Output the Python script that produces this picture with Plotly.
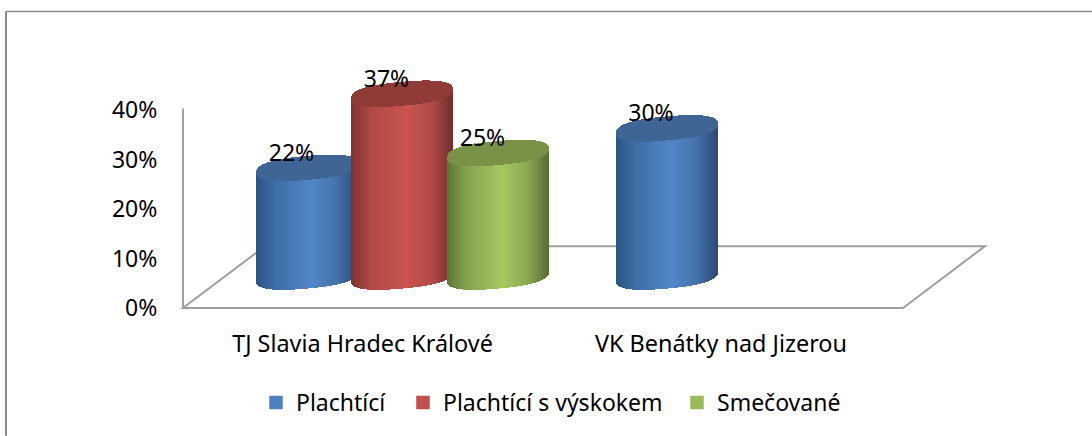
import numpy as np
import plotly.graph_objects as go

# ---- data ----
categories = ["TJ Slavia Hradec Králové", "VK Benátky nad Jizerou"]
series_names = ["Plachtící", "Plachtící s výskokem", "Smečované"]
plachtici = [22, 30]
plachtici_vyskok = [37, None]
smecovane = [25, None]
y_ticks = [0, 10, 20, 30, 40]

# ---- styling / layout ----
W, H = 1092, 436
L, R, B = 183, 985, 308
PX_X = 358.5                 # px per category
PX_Y = 198 / 40.0            # px per percent
Y_MAX = 50.0                 # head-room above the 40% axis for the cylinder tops
T = B - Y_MAX * PX_Y
TICK0_PX = 362.5
FONT = "Noto Sans"
FS = 23
FS_TICK = 23.4
FS_NUM = 23
x_range = [(L - TICK0_PX) / PX_X, (R - TICK0_PX) / PX_X]

slot_px = {  # centre pixel offset of each series from the category tick
    0: [-55.0, 40.0, 136.0],
    1: [-54.0, 0, 0],
}
RX_PX, RY_PX, TILT_PX, BASE_PX, ROUND = 50.5, 12.0, 4.5, 31.5, 2.5
LEGEND_ICON_PX = [276, 423, 697]

palettes = {
    "Plachtící": (
        [(-1, "#2d5583"), (-0.6, "#3f6ea8"), (0.1, "#5387ca"), (0.6, "#4672aa"), (1, "#2c4c76")],
        "#3f6594", "#4f81bd"),
    "Plachtící s výskokem": (
        [(-1, "#7d3331"), (-0.6, "#b04a47"), (0.1, "#cb5450"), (0.6, "#b04a47"), (1, "#752f2d")],
        "#8f3c39", "#c0504d"),
    "Smečované": (
        [(-1, "#5c7535"), (-0.6, "#85a44e"), (0.1, "#a6c95f"), (0.6, "#8aa852"), (1, "#596f33")],
        "#7a9247", "#9bbb59"),
}


def hex2rgb(h):
    return np.array([int(h[i:i + 2], 16) for i in (1, 3, 5)], float)


def shade(stops, u):
    us = [s[0] for s in stops]
    cs = np.array([hex2rgb(s[1]) for s in stops])
    return "rgb(%d,%d,%d)" % tuple(np.interp(u, us, cs[:, k]) for k in range(3))


def paper_x(px):
    return (px - L) / (R - L)


def paper_y(py):
    return (B - py) / (B - T)


def cylinder(cat, idx, value, name):
    stops, cap, _ = palettes[name]
    cx_px = TICK0_PX + cat * PX_X + slot_px[cat][idx]
    n = int(RX_PX * 2)
    us = (np.arange(n) + 0.5) / n * 2 - 1
    xs = (cx_px + us * RX_PX - TICK0_PX) / PX_X
    arc = (1 - np.abs(us) ** ROUND) ** (1 / ROUND) * RY_PX
    low = (BASE_PX + TILT_PX * us - arc) / PX_Y
    front = low + value
    body = go.Bar(x=xs, y=np.full(n, float(value)), base=low, width=1.6 / PX_X,
                  marker=dict(color=[shade(stops, u) for u in us], line=dict(width=0)),
                  showlegend=False, hoverinfo="skip")
    capb = go.Bar(x=xs, y=2 * arc / PX_Y, base=front, width=1.6 / PX_X,
                  marker=dict(color=cap, line=dict(width=0)),
                  showlegend=False, hoverinfo="skip")
    return [body, capb], cx_px


fig = go.Figure()
lab_x, lab_y, lab_t = [], [], []
all_vals = [plachtici, plachtici_vyskok, smecovane]
for cat in range(len(categories)):
    for idx, (vals, name) in enumerate(zip(all_vals, series_names)):
        v = vals[cat]
        if v is None:
            continue
        traces, cx_px = cylinder(cat, idx, v, name)
        fig.add_traces(traces)
        lab_x.append((cx_px - 16 - TICK0_PX) / PX_X)
        lab_y.append(v + (BASE_PX + 13) / PX_Y)
        lab_t.append(f"{v}%")

fig.add_trace(go.Scatter(x=lab_x, y=lab_y, text=lab_t, mode="text", textposition="middle center",
                         textfont=dict(family=FONT, size=FS_NUM, color="#000"),
                         showlegend=False, hoverinfo="skip"))

for i, name in enumerate(series_names):
    c = palettes[name][2]
    fig.add_trace(go.Bar(x=[None], y=[None], name=name,
                         marker=dict(color=c, line=dict(color=c, width=1.5)),
                         legend="legend" if i == 0 else f"legend{i + 1}"))

GREY = "#a0a0a0"
floor = (f"M {paper_x(L)} {paper_y(B)} L {paper_x(903)} {paper_y(B)} "
         f"L {paper_x(985)} {paper_y(246)} L {paper_x(265)} {paper_y(246)} Z")
shapes = [
    dict(type="path", xref="paper", yref="paper", path=floor, layer="below",
         line=dict(color=GREY, width=2)),
    dict(type="line", xref="paper", yref="paper", layer="below",
         x0=paper_x(L), y0=paper_y(B), x1=paper_x(L), y1=paper_y(108),
         line=dict(color=GREY, width=2)),
    dict(type="line", xref="paper", yref="paper", layer="below",
         x0=paper_x(6), y0=paper_y(11), x1=paper_x(W), y1=paper_y(11),
         line=dict(color="#8c8c8c", width=1.5)),
    dict(type="line", xref="paper", yref="paper", layer="below",
         x0=paper_x(6), y0=paper_y(11), x1=paper_x(6), y1=paper_y(H),
         line=dict(color="#8c8c8c", width=2)),
]


def legend_at(icon_px):
    return dict(orientation="h", xref="container", yref="container",
                x=(icon_px - 20) / W, xanchor="left", y=1 - 381 / H, yanchor="top",
                font=dict(family=FONT, size=FS, color="#000"), bgcolor="rgba(0,0,0,0)",
                itemclick=False, itemdoubleclick=False)


fig.update_layout(
    width=W, height=H, autosize=False,
    margin=dict(l=L, r=W - R, t=T, b=H - B, pad=0),
    paper_bgcolor="white", plot_bgcolor="rgba(0,0,0,0)",
    barmode="overlay", bargap=0,
    shapes=shapes,
    font=dict(family=FONT, size=FS, color="#000"),
    showlegend=True,
    legend=legend_at(LEGEND_ICON_PX[0]),
    legend2=legend_at(LEGEND_ICON_PX[1]),
    legend3=legend_at(LEGEND_ICON_PX[2]),
    xaxis=dict(range=x_range, tickmode="array", tickvals=[0, 1], ticktext=categories,
               showgrid=False, zeroline=False, showline=False, ticks="outside",
               ticklen=15, tickcolor="rgba(0,0,0,0)", fixedrange=True,
               tickfont=dict(family=FONT, size=FS_TICK, color="#000")),
    yaxis=dict(range=[0, Y_MAX], tickmode="array", tickvals=y_ticks, ticktext=[f"{t}%" for t in y_ticks],
               showgrid=False, zeroline=False, showline=False,
               ticks="outside", ticklen=20, tickcolor="rgba(0,0,0,0)", fixedrange=True,
               tickfont=dict(family=FONT, size=FS_NUM, color="#000")),
)
fig.write_html("out.html", config={"displayModeBar": False},
               post_script="document.body.style.margin='0';document.body.style.overflow='hidden';")
